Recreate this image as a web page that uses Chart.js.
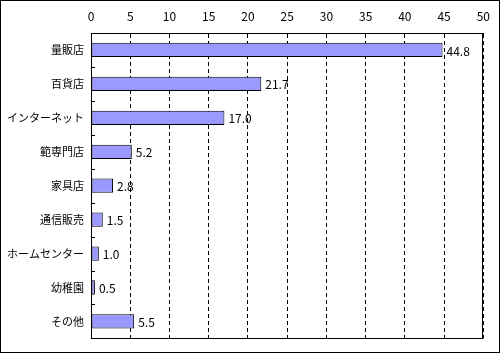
<!DOCTYPE html>
<html>
<head>
<meta charset="utf-8">
<script src="https://cdn.jsdelivr.net/npm/chart.js@4.4.1/dist/chart.umd.min.js"></script>
<style>
    body { margin: 0; background: #fff; }
    #box { width: 500px; height: 353px; box-sizing: border-box; border: 1px solid #000; }
</style>
</head>
<body>
<div id="box"><canvas id="myChart" width="498" height="351"></canvas></div>
<script>
// labels for chart
var categories = ["量販店", "百貨店", "インターネット", "範専門店", "家具店", "通信販売", "ホームセンター", "幼稚園", "その他"];
// data for chart
var values = [44.8, 21.7, 17.0, 5.2, 2.8, 1.5, 1.0, 0.5, 5.5];
var xMin = 0;
var xMax = 50;
var xStep = 5;

var fontName = "'Noto Sans CJK JP', 'Noto Sans', sans-serif";

// frame, little category ticks and value labels
var extras = {
    id: 'extras',
    afterDatasetsDraw: function(chart) {
        var ctx = chart.ctx;
        var area = chart.chartArea;
        var y = chart.scales.y;
        ctx.save();
        ctx.strokeStyle = '#000';
        ctx.lineWidth = 1;
        ctx.setLineDash([]);
        ctx.strokeRect(Math.round(area.left) + 0.5, Math.round(area.top) + 0.5,
            Math.round(area.right - area.left) - 1, Math.round(area.bottom - area.top));
        for (var i = 1; i < categories.length; i++) {
            var py = Math.round((y.getPixelForTick(i - 1) + y.getPixelForTick(i)) / 2) + 0.5;
            ctx.beginPath();
            ctx.moveTo(area.left, py);
            ctx.lineTo(area.left + 4, py);
            ctx.stroke();
        }
        var meta = chart.getDatasetMeta(0);
        ctx.fillStyle = '#000';
        ctx.font = '12px ' + fontName;
        ctx.textAlign = 'left';
        ctx.textBaseline = 'middle';
        for (var j = 0; j < meta.data.length; j++) {
            var bar = meta.data[j];
            ctx.fillText(values[j].toFixed(1), bar.x + 4, bar.y + 1);
        }
        ctx.restore();
    }
};

var mychart = new Chart(document.getElementById("myChart"), {
    type: 'bar',
    data: {
        labels: categories,
        datasets: [{
            data: values,
            backgroundColor: '#9999FF',
            borderColor: '#000',
            borderWidth: 1,
            borderSkipped: false,
            barPercentage: 0.42,
            categoryPercentage: 1
        }]
    },
    options: {
        indexAxis: 'y',
        responsive: false,
        animation: false,
        layout: { padding: { left: 0, right: 12, top: 0, bottom: 5 } },
        plugins: { legend: { display: false }, tooltip: { enabled: false } },
        scales: {
            x: {
                position: 'top',
                min: xMin,
                max: xMax,
                afterFit: function(scale) { scale.height = 32; },
                ticks: { stepSize: xStep, color: '#000', padding: 9, font: { family: fontName, size: 12 } },
                grid: { color: '#000', drawTicks: false },
                border: { display: true, color: '#000', dash: [4, 3] }
            },
            y: {
                afterFit: function(scale) { scale.width = 90; },
                ticks: { color: '#000', padding: 7, font: { family: fontName, size: 11 } },
                grid: { display: false, drawTicks: false },
                border: { display: false }
            }
        }
    },
    plugins: [extras]
});
</script>
</body>
</html>
